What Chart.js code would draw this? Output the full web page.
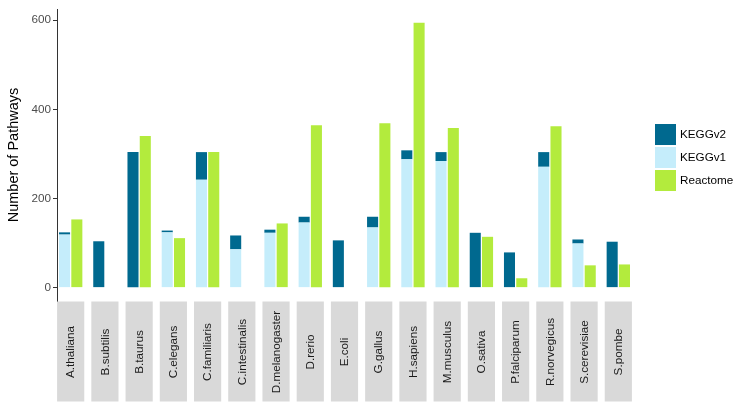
<!DOCTYPE html>
<html>
<head>
<meta charset="utf-8">
<script src="https://cdn.jsdelivr.net/npm/chart.js@4"></script>
<style>
  html, body { margin: 0; padding: 0; background: #fff; }
</style>
</head>
<body>
<canvas id="chart" width="750" height="413"></canvas>
<script>
const organisms = ['A.thaliana', 'B.subtilis', 'B.taurus', 'C.elegans', 'C.familiaris', 'C.intestinalis',
    'D.melanogaster', 'D.rerio', 'E.coli', 'G.gallus', 'H.sapiens', 'M.musculus', 'O.sativa',
    'P.falciparum', 'R.norvegicus', 'S.cerevisiae', 'S.pombe'];

// KEGG bar: light part = KEGGv1, full height = KEGGv2
const keggV1 = [119, 0, 0, 124, 242, 86, 123, 146, 0, 135, 288, 284, 0, 0, 271, 99, 0];
const keggV2 = [124, 104, 304, 128, 304, 117, 130, 159, 106, 159, 308, 304, 123, 79, 304, 108, 103];
const reactome = [153, 0, 340, 111, 304, 0, 144, 364, 0, 369, 594, 358, 114, 21, 362, 50, 52];

const yTicks = [0, 200, 400, 600];

const FONT = '"Liberation Sans", Arial, sans-serif';

const points = (values) => values.map((v, i) => ({x: i, y: v}));

// legend order as in the picture
const legendOrder = [1, 0, 2];

const stripsAndLegend = {
    id: 'stripsAndLegend',
    afterDraw(chart) {
        const {ctx, chartArea} = chart;
        const xs = chart.scales.x;
        const half = (xs.getPixelForValue(1) - xs.getPixelForValue(0)) * 0.397;
        ctx.save();
        organisms.forEach((name, i) => {
            const cx = xs.getPixelForValue(i);
            ctx.fillStyle = '#D9D9D9';
            ctx.fillRect(cx - half, chartArea.bottom + 0.5, half * 2, 100);
            ctx.save();
            ctx.translate(cx + 0.5, chartArea.bottom + 51);
            ctx.rotate(-Math.PI / 2);
            ctx.fillStyle = '#1A1A1A';
            ctx.font = '11.7px ' + FONT;
            ctx.textAlign = 'center';
            ctx.textBaseline = 'middle';
            ctx.fillText(name, 0, 0);
            ctx.restore();
        });

        //region legend
        const lx = chartArea.right + 23;
        let ly = (chartArea.top + chartArea.bottom) / 2 + 3 - 34;
        legendOrder.forEach(idx => {
            const ds = chart.data.datasets[idx];
            ctx.fillStyle = ds.backgroundColor;
            ctx.fillRect(lx, ly, 21, 21);
            ctx.fillStyle = '#000';
            ctx.font = '11.7px ' + FONT;
            ctx.textAlign = 'left';
            ctx.textBaseline = 'middle';
            ctx.fillText(ds.label, lx + 25, ly + 11);
            ly += 23;
        });
        //endregion
        ctx.restore();
    }
};

const config = {
    type: 'bar',
    data: {
        datasets: [{
            label: 'KEGGv1',
            data: points(keggV1),
            stack: 'kegg',
            backgroundColor: '#C5EDFB'
        }, {
            label: 'KEGGv2',
            data: points(keggV2.map((v, i) => v - keggV1[i])),
            stack: 'kegg',
            backgroundColor: '#00698F'
        }, {
            label: 'Reactome',
            data: points(reactome),
            stack: 'reactome',
            backgroundColor: '#B3EB3D'
        }]
    },
    options: {
        responsive: false,
        animation: false,
        categoryPercentage: 0.718,
        barPercentage: 0.9,
        layout: {
            padding: {left: 0, top: 8, right: 118, bottom: 112}
        },
        plugins: {
            legend: {display: false},
            tooltip: {enabled: false}
        },
        scales: {
            x: {
                type: 'linear',
                display: false,
                offset: false,
                min: -0.4,
                max: 16.4
            },
            y: {
                stacked: true,
                min: -30,
                max: 625,
                afterFit: (scale) => { scale.width = 57; },
                afterBuildTicks: (scale) => { scale.ticks = yTicks.map(v => ({value: v})); },
                border: {display: true, color: '#333333', width: 1},
                grid: {display: true, drawOnChartArea: false, drawTicks: true, tickLength: 4, color: '#333333'},
                ticks: {color: '#4D4D4D', padding: 2, font: {size: 11.7, family: FONT}},
                title: {
                    display: true,
                    text: 'Number of Pathways',
                    color: '#000',
                    padding: {top: 5, bottom: 0},
                    font: {size: 14.5, family: FONT}
                }
            }
        }
    },
    plugins: [stripsAndLegend]
};

window.onload = () => {
    const ctx = document.getElementById('chart').getContext('2d');
    window.myChart = new Chart(ctx, config);
};
</script>
</body>
</html>
